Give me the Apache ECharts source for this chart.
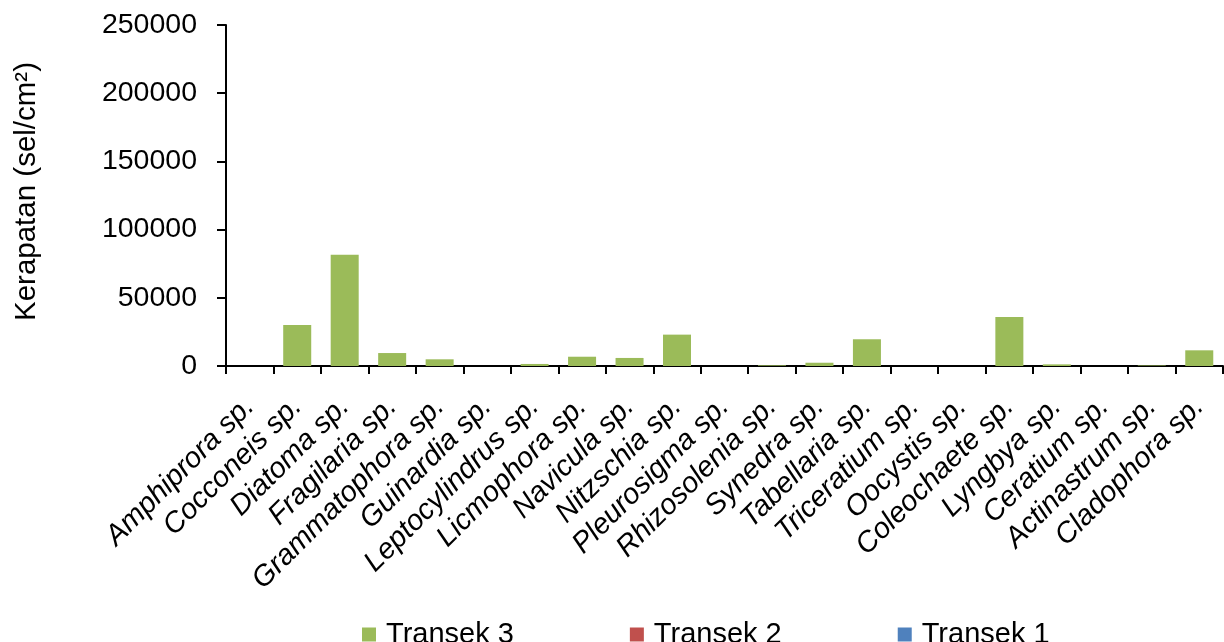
<!DOCTYPE html>
<html>
<head>
<meta charset="utf-8">
<script src="https://cdn.jsdelivr.net/npm/echarts@6/dist/echarts.min.js"></script>
<style>
  html, body { margin: 0; padding: 0; background: #fff; }
  #chart { width: 1224px; height: 642px; }
</style>
</head>
<body>
<div id="chart"></div>
<script>
// Phytoplankton density per species, stacked by transect
const species = [
  'Amphiprora sp.', 'Cocconeis sp.', 'Diatoma sp.', 'Fragilaria sp.',
  'Grammatophora sp.', 'Guinardia sp.', 'Leptocylindrus sp.', 'Licmophora sp.',
  'Navicula sp.', 'Nitzschia sp.', 'Pleurosigma sp.', 'Rhizosolenia sp.',
  'Synedra sp.', 'Tabellaria sp.', 'Triceratium sp.', 'Oocystis sp.',
  'Coleochaete sp.', 'Lyngbya sp.', 'Ceratium sp.', 'Actinastrum sp.',
  'Cladophora sp.'
];
const transek1 = [0, 0, 0, 0, 0, 0, 0, 0, 0, 0, 0, 0, 0, 0, 0, 0, 0, 0, 0, 0, 0];
const transek2 = [0, 0, 0, 0, 0, 0, 0, 0, 0, 0, 0, 0, 0, 0, 0, 0, 0, 0, 0, 0, 0];
const transek3 = [0, 30000, 81500, 9500, 4900, 0, 1500, 6800, 5900, 23000, 0, 500,
                  2400, 19600, 0, 0, 35900, 1200, 0, 400, 11500];
const yTicks = { min: 0, max: 250000, interval: 50000 };

const FONT = '"Liberation Sans", Arial, sans-serif';
const chart = echarts.init(document.getElementById('chart'), null, { renderer: 'canvas' });

const barStyle = (name, color, data) => ({
  name: name,
  type: 'bar',
  stack: 'total',
  data: data,
  barCategoryGap: '41%',
  itemStyle: { color: color },
  emphasis: { disabled: true }
});

chart.setOption({
  animation: false,
  textStyle: { fontFamily: FONT, color: '#000' },
  grid: { left: 226, right: 1, top: 25, bottom: 276, containLabel: false },
  legend: {
    data: ['Transek 3', 'Transek 2', 'Transek 1'],
    left: 357,
    top: 615,
    icon: 'rect',
    itemWidth: 14,
    itemHeight: 14,
    itemGap: 116,
    textStyle: { fontFamily: FONT, fontSize: 29, color: '#000', lineHeight: 29, padding: [0, 0, 0, 5] }
  },
  xAxis: {
    type: 'category',
    data: species,
    boundaryGap: true,
    axisLine: { show: true, lineStyle: { color: '#000', width: 2 } },
    axisTick: { show: true, alignWithLabel: false, length: 8, lineStyle: { color: '#000', width: 2 } },
    axisLabel: {
      rotate: 45,
      interval: 0,
      margin: 36,
      fontFamily: FONT,
      fontStyle: 'italic',
      fontSize: 29,
      color: '#000'
    },
    splitLine: { show: false }
  },
  yAxis: {
    type: 'value',
    min: yTicks.min,
    max: yTicks.max,
    interval: yTicks.interval,
    name: 'Kerapatan (sel/cm²)',
    nameLocation: 'middle',
    nameGap: 184,
    nameRotate: 90,
    nameTextStyle: { fontFamily: FONT, fontSize: 29.5, color: '#000', padding: [0, 0, 0, 8] },
    axisLine: { show: true, lineStyle: { color: '#000', width: 2 } },
    axisTick: { show: true, length: 9, lineStyle: { color: '#000', width: 2 } },
    axisLabel: {
      margin: 29, fontFamily: FONT, fontSize: 28.5, color: '#000',
      formatter: (v) => String(v)
    },
    splitLine: { show: false }
  },
  series: [
    barStyle('Transek 1', '#4F81BD', transek1),
    barStyle('Transek 2', '#C0504D', transek2),
    barStyle('Transek 3', '#9BBB59', transek3)
  ]
});
</script>
</body>
</html>
